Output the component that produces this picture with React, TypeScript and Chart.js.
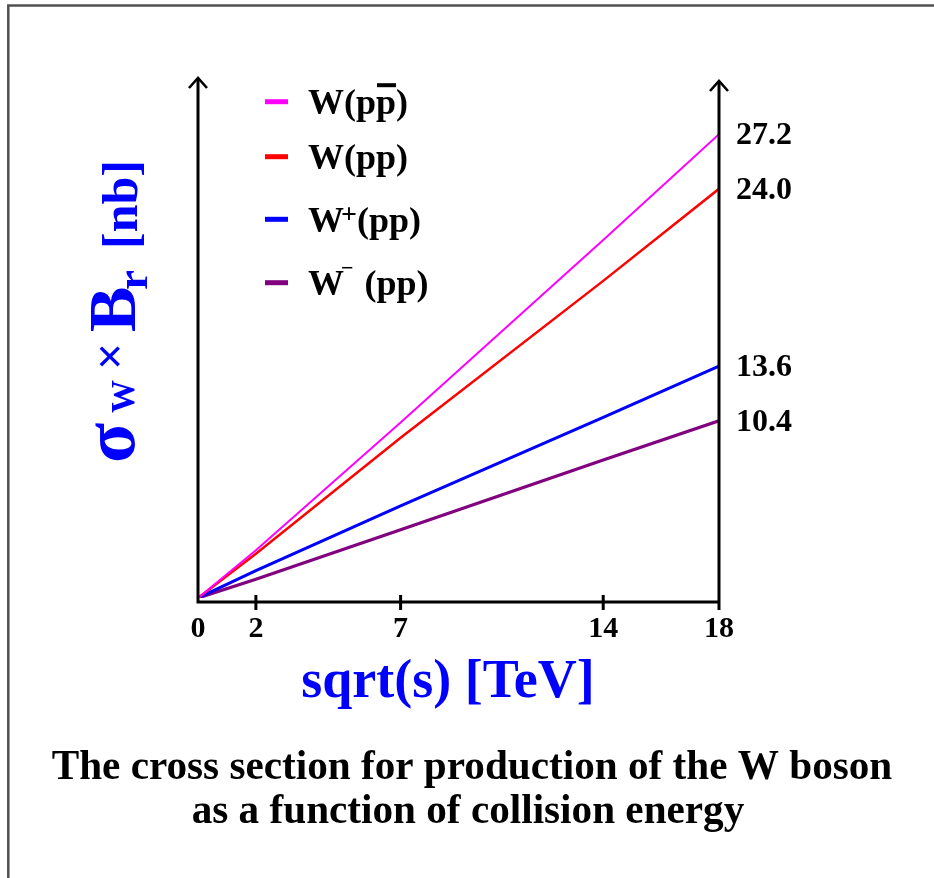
import React, { useEffect, useRef } from 'react';
import { Chart, registerables } from 'chart.js';

Chart.register(...registerables);

// ---- data ----
const energies = [0, 2, 7, 14, 18];
const wPPbar = [0, 2.8, 10.3, 21.0, 27.2];
const wPP = [0, 2.6, 9.4, 18.6, 24.0];
const wPlus = [0, 1.6, 5.4, 10.6, 13.6];
const wMinus = [0, 1.1, 4.0, 8.1, 10.4];
const xTickValues = [2, 7, 14];
const xTickLabels = [0, 2, 7, 14, 18];
const endValues = [27.2, 24.0, 13.6, 10.4];
const seriesNames = ['W(pp\u0304)', 'W(pp)', 'W\u207A(pp)', 'W\u207B(pp)'];
const seriesColors = ['#ff00ff', '#ff0000', '#0000ff', '#800080'];
const xTitle = 'sqrt(s) [TeV]';
const captionLines = [
  'The cross section for production of the W boson',
  'as a function of collision energy',
];

const SERIF = '"Liberation Serif", "Times New Roman", Times, serif';
const font = (s: number) => `bold ${s}px ${SERIF}`;
const BLUE = '#0000ff';

type Seg = { t: string; size?: number; dy?: number; bar?: boolean; gap?: number };

function drawRich(ctx: CanvasRenderingContext2D, x: number, base: number, segs: Seg[]) {
  let cx = x;
  for (const s of segs) {
    const size = s.size ?? 36;
    ctx.font = font(size);
    const w = ctx.measureText(s.t).width;
    ctx.fillText(s.t, cx, base + (s.dy ?? 0));
    if (s.bar) {
      ctx.fillRect(cx + 1, base - 31, w - 1, 4);
    }
    cx += w + (s.gap ?? 0);
  }
}

function rot(ctx: CanvasRenderingContext2D, text: string, size: number, yStart: number, baseX: number) {
  ctx.save();
  ctx.translate(baseX, yStart);
  ctx.rotate(-Math.PI / 2);
  ctx.font = font(size);
  ctx.textAlign = 'left';
  ctx.textBaseline = 'alphabetic';
  ctx.fillText(text, 0, 0);
  ctx.restore();
}

const decor = {
  id: 'decor',
  beforeDraw(chart: any) {
    const ctx: CanvasRenderingContext2D = chart.ctx;
    ctx.save();
    ctx.fillStyle = '#ffffff';
    ctx.fillRect(0, 0, chart.width, chart.height);
    ctx.strokeStyle = '#505050';
    ctx.lineWidth = 2.5;
    ctx.beginPath();
    ctx.moveTo(8.3, chart.height);
    ctx.lineTo(8.3, 5.5);
    ctx.lineTo(chart.width, 5.5);
    ctx.stroke();
    ctx.restore();
  },
  afterDatasetsDraw(chart: any) {
    const ctx: CanvasRenderingContext2D = chart.ctx;
    const xs = chart.scales.x;
    const ys = chart.scales.y;
    const xL = xs.getPixelForValue(0);
    const xR = xs.getPixelForValue(18);
    const y0 = ys.getPixelForValue(0);
    const yTop = ys.top;
    ctx.save();
    ctx.strokeStyle = '#000';
    ctx.fillStyle = '#000';
    ctx.lineWidth = 3;
    ctx.lineCap = 'butt';
    // axes
    ctx.beginPath();
    ctx.moveTo(xL, y0 + 5);
    ctx.lineTo(xL, yTop);
    ctx.moveTo(xR, y0 + 12);
    ctx.lineTo(xR, yTop + 3);
    ctx.moveTo(xL - 1.5, y0 + 4);
    ctx.lineTo(xR + 1.5, y0 + 4);
    for (const v of xTickValues) {
      const px = xs.getPixelForValue(v);
      ctx.moveTo(px, y0 - 3);
      ctx.lineTo(px, y0 + 12);
    }
    ctx.stroke();
    // arrow heads
    ctx.lineWidth = 2.6;
    ctx.lineJoin = 'miter';
    for (const [ax, ay] of [[xL, yTop], [xR, yTop + 3]]) {
      ctx.beginPath();
      ctx.moveTo(ax - 9, ay + 10);
      ctx.lineTo(ax, ay);
      ctx.lineTo(ax + 9, ay + 10);
      ctx.stroke();
    }
    // x tick labels
    ctx.font = font(30);
    ctx.textAlign = 'center';
    ctx.textBaseline = 'alphabetic';
    for (const v of xTickLabels) {
      ctx.fillText(String(v), xs.getPixelForValue(v), y0 + 39);
    }
    // end-value labels
    ctx.font = font(32);
    ctx.textAlign = 'left';
    for (const v of endValues) {
      ctx.fillText(v.toFixed(1), xR + 17, ys.getPixelForValue(v) + 10);
    }
    // legend
    const rowsY = [101.7, 156.7, 219.3, 282.7];
    const rich: Seg[][] = [
      [{ t: 'W(p' }, { t: 'p', bar: true }, { t: ')' }],
      [{ t: 'W(pp)' }],
      [{ t: 'W', gap: -3 }, { t: '+', size: 28, dy: -9 }, { t: '(pp)' }],
      [{ t: 'W', gap: -3 }, { t: '\u2212', size: 22, dy: -20, gap: 11 }, { t: '(pp)' }],
    ];
    seriesNames.forEach((name, i) => {
      const cy = rowsY[i];
      ctx.fillStyle = seriesColors[i];
      ctx.fillRect(265, cy - 2.5, 23, 5);
      ctx.fillStyle = '#000';
      ctx.textAlign = 'left';
      drawRich(ctx, 308, cy + 12.5, rich[i]);
    });
    // x title
    ctx.fillStyle = BLUE;
    ctx.font = font(54);
    ctx.textAlign = 'center';
    ctx.fillText(xTitle, 448, 697);
    // y title (rotated)
    rot(ctx, '\u03C3', 74, 463, 134);
    rot(ctx, 'W', 33, 413, 134);
    rot(ctx, '\u00D7', 48, 370, 126);
    rot(ctx, 'B', 68, 332, 135);
    rot(ctx, 'r', 45, 290, 147);
    rot(ctx, '[nb]', 50, 249, 137);
    // caption
    ctx.fillStyle = '#000';
    ctx.font = font(41.2);
    ctx.textAlign = 'center';
    ctx.fillText(captionLines[0], 472, 779);
    ctx.fillText(captionLines[1], 468, 823);
    ctx.restore();
  },
};

export default function App() {
  const ref = useRef<HTMLCanvasElement | null>(null);
  useEffect(() => {
    if (!ref.current) return;
    const series = [wPPbar, wPP, wPlus, wMinus];
    const widths = [2, 2.5, 3, 3.2];
    const chart = new Chart(ref.current, {
      type: 'line',
      data: {
        datasets: series.map((vals, i) => ({
          label: seriesNames[i],
          data: energies.map((e, k) => ({ x: e, y: vals[k] })),
          borderColor: seriesColors[i],
          backgroundColor: seriesColors[i],
          borderWidth: widths[i],
          pointRadius: 0,
          tension: 0,
          fill: false,
        })),
      },
      options: {
        responsive: false,
        animation: false,
        devicePixelRatio: 1,
        layout: { padding: { left: 198, right: 934 - 719, top: 78, bottom: 878 - 598 } },
        plugins: { legend: { display: false }, tooltip: { enabled: false }, title: { display: false } },
        scales: {
          x: { type: 'linear', min: 0, max: 18, display: false },
          y: { type: 'linear', min: 0, max: 30.5, display: false },
        },
      },
      plugins: [decor],
    });
    return () => chart.destroy();
  }, []);
  return (
    <div style={{ position: 'absolute', left: 0, top: 0, width: 934, height: 878, background: '#fff' }}>
      <canvas ref={ref} width={934} height={878} style={{ display: 'block', width: 934, height: 878 }} />
    </div>
  );
}
